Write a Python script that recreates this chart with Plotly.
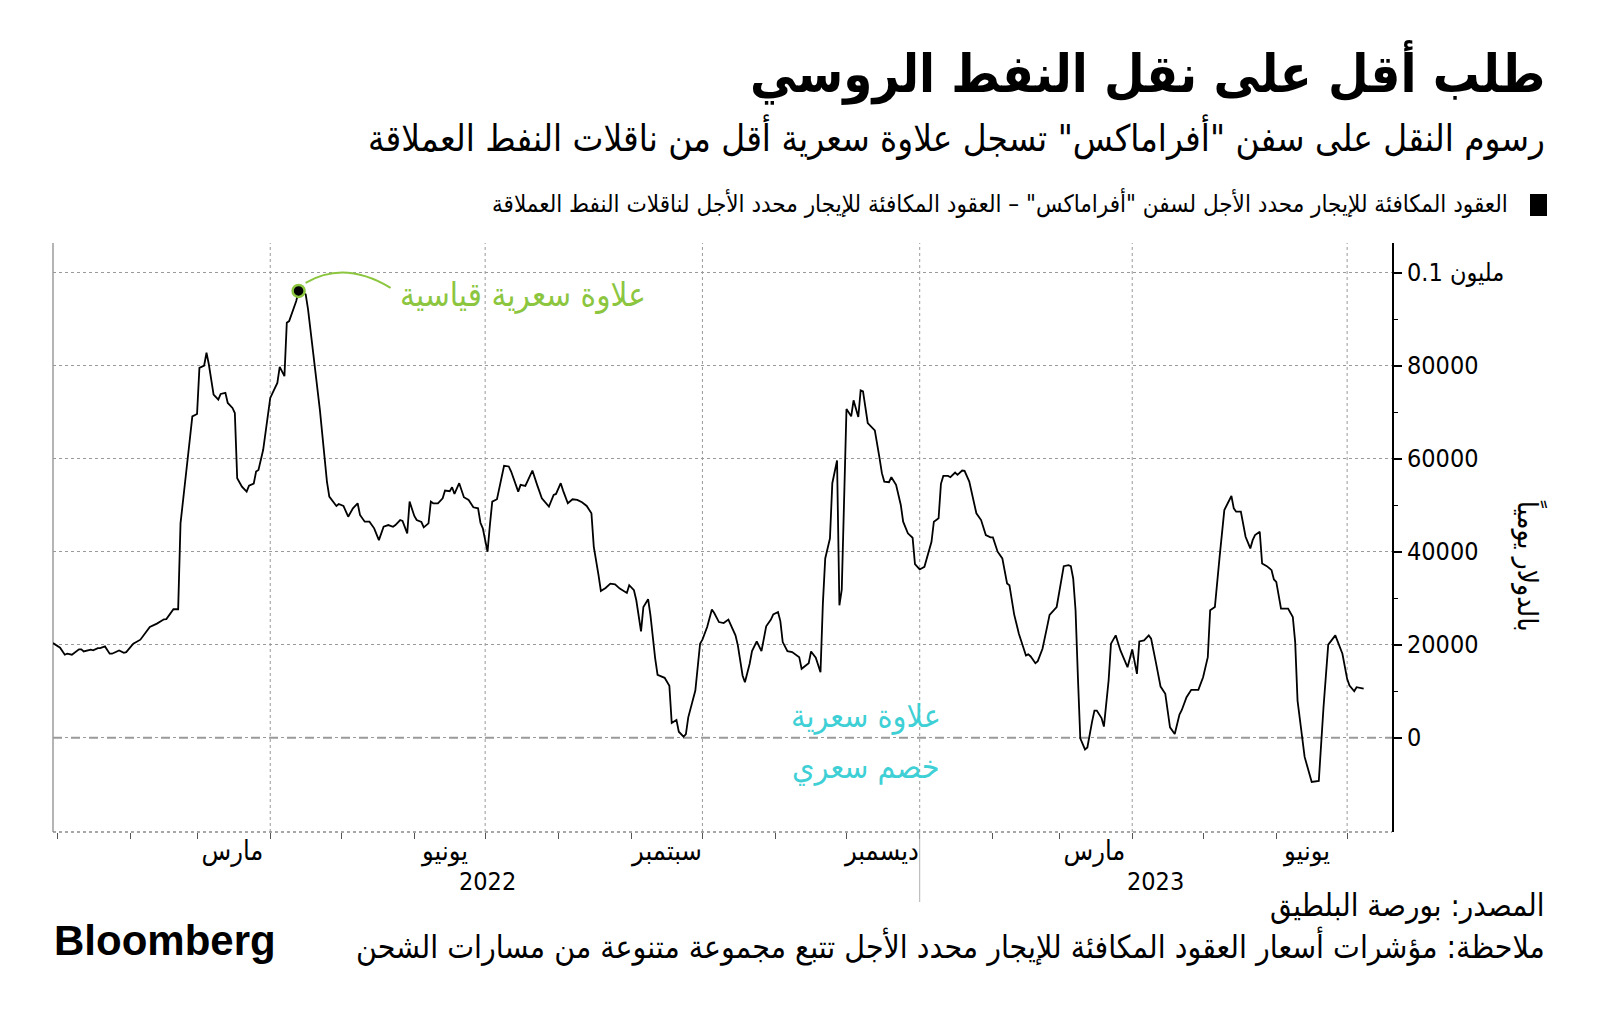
import numpy as np
import pandas as pd
import plotly.graph_objects as go

# ---- data: days since 2022-01-01 and spread (USD/day) ----
days = [
    -2, 1, 3, 4, 6, 9, 10, 11, 14, 15, 17, 18, 20, 22, 23, 26, 28, 29, 32, 35,
    39, 42, 45, 46, 49, 51, 52, 54, 56, 57, 59, 60, 62, 63, 64, 66, 68, 69, 71, 72,
    74, 75, 76, 78, 80, 81, 83, 84, 85, 87, 90, 91, 93, 94, 96, 97, 98, 101, 102, 105,
    106, 108, 110, 111, 114, 115, 118, 119, 121, 123, 125, 127, 128, 130, 132, 134, 136, 138, 140, 142,
    143, 145, 146, 148, 149, 151, 152, 154, 155, 157, 158, 159, 161, 163, 164, 166, 167, 168, 170, 172,
    174, 176, 178, 179, 180, 182, 183, 184, 186, 189, 191, 192, 195, 196, 198, 200, 201, 203, 205, 208,
    210, 211, 213, 214, 216, 218, 220, 222, 224, 226, 227, 229, 230, 232, 234, 236, 238, 241, 242, 244,
    245, 247, 248, 250, 251, 253, 254, 257, 259, 260, 262, 263, 265, 266, 267, 270, 272, 273, 275, 277,
    278, 280, 282, 284, 285, 287, 288, 290, 291, 293, 294, 296, 298, 300, 302, 303, 305, 306, 307, 309,
    311, 314, 315, 316, 318, 319, 321, 323, 324, 325, 327, 328, 330, 331, 332, 334, 336, 337, 339, 340,
    341, 343, 344, 346, 348, 349, 350, 352, 353, 355, 357, 358, 360, 362, 363, 365, 367, 368, 370, 371,
    373, 374, 375, 377, 378, 380, 381, 383, 384, 386, 388, 389, 391, 393, 395, 396, 398, 400, 402, 403,
    405, 407, 410, 411, 412, 414, 415, 417, 419, 420, 423, 425, 426, 428, 429, 430, 431, 432, 433, 435,
    436, 438, 439, 440, 442, 443, 445, 446, 448, 450, 453, 455, 457, 458, 460, 462, 463, 465, 467, 469,
    470, 471, 473, 475, 476, 478, 480, 483, 485, 487, 488, 490, 492, 493, 494, 497, 498, 499, 501, 503,
    505, 506, 507, 509, 510, 512, 514, 515, 516, 518, 521, 523, 524, 525, 527, 528, 531, 534, 536, 538,
    541, 543, 544, 546, 547, 549, 550, 553,
]
spread = [
    20350, 19350, 17840, 18060, 17840, 18990, 18990, 18560, 18920, 18800, 19270, 19270, 19630, 18060, 18060, 18770, 18270, 18400, 20220, 21080,
    23800, 24530, 25460, 25500, 27620, 27620, 46100, 54730, 64450, 69100, 69620, 79540, 80040, 82780, 80260, 73780, 72700, 73930, 74150, 71990,
    70910, 69830, 55810, 54000, 52920, 54220, 54650, 57240, 57600, 61920, 73070, 74150, 76310, 79760, 77740, 89250, 89600, 93920, 96080, 95360,
    92130, 83490, 74870, 70550, 55080, 51840, 49840, 50270, 49840, 47530, 49330, 50410, 47900, 46450, 46450, 45030, 42500, 45370, 45730, 45370,
    45730, 46810, 46600, 43950, 50770, 47680, 46810, 46380, 45230, 46100, 50770, 50410, 50410, 51490, 53140, 53000, 53860, 52420, 54730, 51710,
    51130, 49550, 49330, 46230, 45030, 40000, 45730, 50770, 51280, 58470, 58330, 57240, 52920, 54370, 54150, 56160, 57460, 54370, 51490, 49690,
    52210, 52420, 54730, 53140, 50410, 51280, 51130, 50630, 49840, 48260, 41060, 34950, 31560, 32210, 33140, 33000, 32070, 31130, 32790, 31710,
    29560, 22870, 28110, 29780, 26320, 16980, 13530, 12880, 11150, 3170, 3820, 1290, 210, 790, 4380, 10140, 20220, 21080, 23800, 27550,
    26820, 24870, 24660, 25390, 24170, 22010, 19850, 13380, 11930, 15900, 18620, 20710, 18620, 23950, 25390, 26530, 27030, 25090, 20560, 18620,
    18400, 17320, 14820, 15170, 16030, 18550, 17190, 14090, 28840, 38550, 42870, 54730, 59610, 28480, 31860, 70690, 69100, 72550, 68960, 74710,
    74500, 67680, 67090, 66080, 60130, 56890, 55080, 54950, 56030, 54370, 50060, 46450, 43950, 43000, 37320, 36180, 36740, 38550, 42140, 46450,
    47180, 54590, 56310, 56310, 56030, 57030, 56530, 57460, 57400, 55080, 50060, 48260, 46810, 43580, 43080, 43080, 40000, 38550, 33170, 32790,
    26530, 22370, 17690, 17910, 17470, 16030, 16460, 19130, 23950, 26400, 28110, 34240, 36890, 37110, 36890, 34240, 27400, 13010, -140, -2520,
    -2090, 3450, 5820, 5820, 4210, 2400, 12300, 20220, 22010, 18770, 15170, 18990, 13740, 20710, 20930, 22010, 21300, 16250, 11000, 9430,
    5830, 2230, 800, 4960, 5970, 8700, 10290, 10290, 13010, 17320, 27400, 28110, 38900, 44650, 48960, 51980, 49330, 48610, 48610, 43220,
    40700, 42490, 43580, 44300, 37470, 36890, 36030, 34020, 33510, 27770, 27770, 25960, 20560, 7980, -900, -4130, -9520, -9310, 6540, 20000,
    22010, 19130, 18060, 12660, 11220, 9990, 10860, 10570,
]

month_label_dates = ["2022-03-16", "2022-06-14", "2022-09-16", "2022-12-16", "2023-03-16", "2023-06-14"]
month_labels = ["مارس", "يونيو", "سبتمبر", "ديسمبر", "مارس", "يونيو"]
quarter_dates = ["2022-04-01", "2022-07-01", "2022-10-01", "2023-01-01", "2023-04-01", "2023-07-01"]
years = ["2022", "2023"]
y_ticks = [0, 20000, 40000, 60000, 80000, 100000]
y_ticktext = ["0", "20000", "40000", "60000", "80000", "0.1 مليون"]

x_range = ["2021-12-30", "2023-07-20"]
y_range = [-20280, 106390]

TITLE = "طلب أقل على نقل النفط الروسي"
SUBTITLE = "رسوم النقل على سفن \"أفراماكس\" تسجل علاوة سعرية أقل من ناقلات النفط العملاقة"
LEGEND = "العقود المكافئة للإيجار محدد الأجل لسفن \"أفراماكس\" – العقود المكافئة للإيجار محدد الأجل لناقلات النفط العملاقة"
Y_TITLE = "بالدولار يومياً"
SOURCE = "المصدر: بورصة البلطيق"
NOTE = "ملاحظة: مؤشرات أسعار العقود المكافئة للإيجار محدد الأجل تتبع مجموعة متنوعة من مسارات الشحن"
ANN_RECORD = "علاوة سعرية قياسية"
ANN_PREMIUM = "علاوة سعرية"
ANN_DISCOUNT = "خصم سعري"

GREEN = "#8cc63f"
CYAN = "#3fd0d6"
FONT = "DejaVu Sans Condensed, DejaVu Sans, sans-serif"

dates = (pd.Timestamp("2022-01-01") + pd.to_timedelta(days, unit="D")).strftime("%Y-%m-%d").tolist()
ipk = int(np.argmax(spread))
peak_date, peak_val = dates[ipk], spread[ipk]

# layout geometry (pixels)
L, R, T, B = 53, 208, 243, 186
W, H = 1600 - L - R, 1018 - T - B


def px(xp):
    return (xp - L) / W


def py(yp):
    return (1018 - B - yp) / H


fig = go.Figure()
fig.add_trace(go.Scatter(x=dates, y=spread, mode="lines",
                         line=dict(color="#000000", width=1.8), hoverinfo="skip", showlegend=False))
fig.add_trace(go.Scatter(x=[peak_date], y=[peak_val], mode="markers", cliponaxis=False,
                         marker=dict(size=12, color="#000000", line=dict(color=GREEN, width=2.5)),
                         showlegend=False, hoverinfo="skip"))

shapes = []
for q in quarter_dates:
    shapes.append(dict(type="line", xref="x", yref="paper", x0=q, x1=q, y0=0, y1=1, layer="below",
                       line=dict(color="#9a9a9a", width=1, dash="dot")))
# left frame line
shapes.append(dict(type="line", xref="paper", yref="paper", x0=0, x1=0, y0=0, y1=1, layer="below",
                   line=dict(color="#b5b5b5", width=2)))
# bottom axis (dotted)
shapes.append(dict(type="line", xref="paper", yref="paper", x0=0, x1=1, y0=0, y1=0, layer="below",
                   line=dict(color="#8a8a8a", width=1.5, dash="dot")))
# zero line
shapes.append(dict(type="line", xref="paper", yref="y", x0=0, x1=1, y0=0, y1=0, layer="below",
                   line=dict(color="#9a9a9a", width=2, dash="dash")))
# year separator
shapes.append(dict(type="line", xref="x", yref="paper", x0="2023-01-01", x1="2023-01-01", y0=0, y1=py(902),
                   line=dict(color="#b0b0b0", width=1)))
# legend swatch
shapes.append(dict(type="rect", xref="paper", yref="paper", x0=px(1530), x1=px(1547), y0=py(216), y1=py(194),
                   fillcolor="#000000", line=dict(width=0)))
# curved connector from the record point to its label
shapes.append(dict(type="path", xref="x", yref="y", xsizemode="pixel", ysizemode="pixel",
                   xanchor=peak_date, yanchor=peak_val, path="M 7,8 Q 46,31 92,3",
                   line=dict(color=GREEN, width=2)))

# year labels centred on the visible part of each year
xr0, xr1 = pd.Timestamp(x_range[0]), pd.Timestamp(x_range[1])
annotations = []
for yr in years:
    a = max(xr0, pd.Timestamp(f"{yr}-01-01"))
    b = min(xr1, pd.Timestamp(f"{yr}-12-31"))
    mid = (a + (b - a) / 2).strftime("%Y-%m-%d")
    annotations.append(dict(x=mid, xref="x", y=py(881), yref="paper", text=yr, showarrow=False,
                            xanchor="center", yanchor="middle", font=dict(size=25, color="#000")))

annotations += [
    dict(x=px(1547), y=py(73), xref="paper", yref="paper", text=f"<b>{TITLE}</b>", showarrow=False,
         xanchor="right", yanchor="middle", font=dict(size=52, color="#000")),
    dict(x=px(1547), y=py(137), xref="paper", yref="paper", text=SUBTITLE, showarrow=False,
         xanchor="right", yanchor="middle", font=dict(size=36.5, color="#000")),
    dict(x=px(1510), y=py(203), xref="paper", yref="paper", text=LEGEND, showarrow=False,
         xanchor="right", yanchor="middle", font=dict(size=24, color="#000")),
    dict(x=px(1547), y=py(905), xref="paper", yref="paper", text=SOURCE, showarrow=False,
         xanchor="right", yanchor="middle", font=dict(size=31, color="#000")),
    dict(x=px(1547), y=py(946), xref="paper", yref="paper", text=NOTE, showarrow=False,
         xanchor="right", yanchor="middle", font=dict(size=31.7, color="#000")),
    dict(x=px(52), y=py(940), xref="paper", yref="paper", text="<b>Bloomberg</b>", showarrow=False,
         xanchor="left", yanchor="middle",
         font=dict(size=42, color="#000", family="Liberation Sans Narrow, Liberation Sans, Arial")),
    dict(x=px(1530), y=py(566), xref="paper", yref="paper", text=Y_TITLE, showarrow=False, textangle=90,
         xanchor="center", yanchor="middle", font=dict(size=28, color="#000")),
    dict(x=px(398), y=py(294), xref="paper", yref="paper", text=ANN_RECORD, showarrow=False,
         xanchor="left", yanchor="middle", font=dict(size=33, color=GREEN)),
    dict(x=px(866), y=py(716), xref="paper", yref="paper", text=ANN_PREMIUM, showarrow=False,
         xanchor="center", yanchor="middle", font=dict(size=32, color=CYAN)),
    dict(x=px(866), y=py(767), xref="paper", yref="paper", text=ANN_DISCOUNT, showarrow=False,
         xanchor="center", yanchor="middle", font=dict(size=32, color=CYAN)),
]

fig.update_layout(
    width=1600, height=1018,
    margin=dict(l=L, r=R, t=T, b=B),
    paper_bgcolor="#ffffff", plot_bgcolor="#ffffff",
    font=dict(family=FONT, color="#000"),
    showlegend=False,
    shapes=shapes,
    annotations=annotations,
    xaxis=dict(
        type="date", range=x_range,
        tickmode="array", tickvals=month_label_dates, ticktext=month_labels,
        ticks="", showgrid=False, zeroline=False, showline=False,
        tickfont=dict(size=27, color="#000"),
        minor=dict(dtick="M1", tick0="2022-01-01", ticks="outside", ticklen=6,
                   tickcolor="#555", tickwidth=1, showgrid=False),
    ),
    yaxis=dict(
        range=y_range, side="right",
        tickmode="array", tickvals=y_ticks, ticktext=y_ticktext,
        ticks="outside", ticklen=8, tickwidth=2, tickcolor="#000",
        showline=True, linecolor="#000", linewidth=2,
        showgrid=True, gridcolor="#9a9a9a", gridwidth=1, griddash="dot",
        zeroline=False,
        tickfont=dict(size=25, color="#000"),
        minor=dict(tickmode="array", tickvals=[10000, 30000, 50000, 70000, 90000],
                   ticks="outside", ticklen=4, tickcolor="#000", tickwidth=1, showgrid=False),
    ),
)

fig.write_html("out.html")
